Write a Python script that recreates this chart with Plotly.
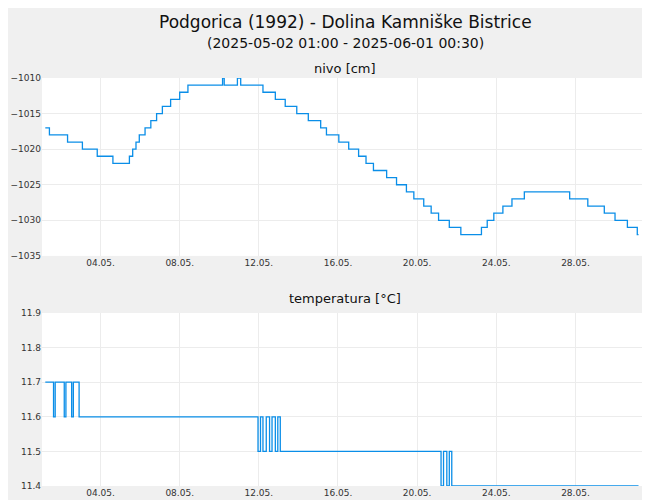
import plotly.graph_objects as go

# water level (cm) step changes
nivo_t = ["2025-05-02 01:00", "2025-05-02 06:00", "2025-05-03 04:00", "2025-05-03 22:00", "2025-05-04 16:00",
          "2025-05-05 11:00", "2025-05-06 07:00", "2025-05-06 11:00", "2025-05-06 15:00", "2025-05-06 19:00",
          "2025-05-07 02:00", "2025-05-07 09:00", "2025-05-07 16:00", "2025-05-07 23:00", "2025-05-08 09:00",
          "2025-05-08 20:00", "2025-05-09 06:00", "2025-05-11 00:00", "2025-05-11 02:00", "2025-05-11 18:00",
          "2025-05-11 22:00", "2025-05-13 01:00", "2025-05-13 16:00", "2025-05-14 04:00", "2025-05-14 18:00",
          "2025-05-15 08:00", "2025-05-15 23:00", "2025-05-16 06:00", "2025-05-16 21:00", "2025-05-17 09:00",
          "2025-05-17 21:00", "2025-05-18 06:00", "2025-05-18 15:00", "2025-05-19 07:00", "2025-05-19 19:00",
          "2025-05-20 07:00", "2025-05-20 16:00", "2025-05-21 04:00", "2025-05-21 13:00", "2025-05-21 22:00",
          "2025-05-22 11:00", "2025-05-23 01:00", "2025-05-24 02:00", "2025-05-24 09:00", "2025-05-24 17:00",
          "2025-05-25 04:00", "2025-05-25 15:00", "2025-05-26 06:00", "2025-05-28 13:00", "2025-05-29 11:00",
          "2025-05-30 07:00", "2025-05-30 20:00", "2025-05-31 11:00", "2025-05-31 23:00", "2025-06-01 00:30"]
nivo_v = [-1017, -1018, -1019, -1020, -1021,
          -1022, -1021, -1020, -1019, -1018,
          -1017, -1016, -1015, -1014, -1013,
          -1012, -1011, -1010, -1011, -1010,
          -1011, -1012, -1013, -1014, -1015,
          -1016, -1017, -1018, -1019, -1020,
          -1021, -1022, -1023, -1024, -1025,
          -1026, -1027, -1028, -1029, -1030,
          -1031, -1032, -1031, -1030, -1029,
          -1028, -1027, -1026, -1027, -1028,
          -1029, -1030, -1031, -1032, -1032]

# temperature (°C)
temp_t = ["2025-05-02 01:00", "2025-05-02 11:00", "2025-05-02 13:00", "2025-05-03 00:00", "2025-05-03 02:00",
          "2025-05-03 09:00", "2025-05-03 11:00", "2025-05-03 18:00",
          "2025-05-12 19:00", "2025-05-12 22:00", "2025-05-13 01:00", "2025-05-13 05:00", "2025-05-13 09:00",
          "2025-05-13 12:00", "2025-05-13 16:00", "2025-05-13 19:00", "2025-05-13 22:00", "2025-05-14 02:00",
          "2025-05-22 01:00", "2025-05-22 04:00", "2025-05-22 08:00", "2025-05-22 11:00", "2025-05-22 14:00",
          "2025-05-22 18:00", "2025-06-01 00:30"]
temp_v = [11.7, 11.6, 11.7, 11.6, 11.7,
          11.6, 11.7, 11.6,
          11.5, 11.6, 11.5, 11.6, 11.5,
          11.6, 11.5, 11.6, 11.5, 11.5,
          11.4, 11.5, 11.4, 11.5, 11.4,
          11.4, 11.4]

tick_vals = ["2025-05-04 20:00", "2025-05-08 20:00", "2025-05-12 20:00", "2025-05-16 20:00",
             "2025-05-20 20:00", "2025-05-24 20:00", "2025-05-28 20:00"]
tick_text = ["04.05.", "08.05.", "12.05.", "16.05.", "20.05.", "24.05.", "28.05."]

blue = "#0a8ee8"
fig = go.Figure()
fig.add_trace(go.Scatter(x=nivo_t, y=nivo_v, mode="lines", line=dict(color=blue, width=1.3, shape="hv"),
                         xaxis="x", yaxis="y", showlegend=False))
fig.add_trace(go.Scatter(x=temp_t, y=temp_v, mode="lines", line=dict(color=blue, width=1.3, shape="hv"),
                         xaxis="x2", yaxis="y2", showlegend=False))

xr = ["2025-05-01 21:00", "2025-06-01 12:00"]
ax = dict(type="date", range=xr, tickvals=tick_vals, ticktext=tick_text, showgrid=True,
          gridcolor="#ececec", zeroline=False, tickfont=dict(size=9, color="#333"), ticks="")
yax = dict(gridcolor="#ececec", zeroline=False, tickfont=dict(size=9, color="#333"), automargin=False)
fig.update_layout(
    width=650, height=500, paper_bgcolor="#f0f0f0", plot_bgcolor="white",
    font=dict(family="DejaVu Sans", color="#222"),
    margin=dict(l=34, r=10, t=70, b=22),
    xaxis=dict(ax, domain=[0, 1], anchor="y"),
    xaxis2=dict(ax, domain=[0, 1], anchor="y2"),
    yaxis=dict(yax, domain=[0.564, 1], range=[-1035, -1010], dtick=5),
    yaxis2=dict(yax, domain=[0, 0.424], range=[11.4, 11.9], dtick=0.1, tickformat=".1f"),
)
anns = [
    ("Podgorica (1992) - Dolina Kamniške Bistrice", 14, 17),
    ("(2025-05-02 01:00 - 2025-06-01 00:30)", 35, 14),
    ("nivo [cm]", 60, 13),
    ("temperatura [°C]", 290, 13),
]
for text, ypx, size in anns:
    fig.add_annotation(text=text, x=0.5, xref="paper", y=1 + (70 - ypx) / 408, yref="paper",
                       showarrow=False, font=dict(size=size, color="#111"), yanchor="middle")
fig.write_html("out.html")
